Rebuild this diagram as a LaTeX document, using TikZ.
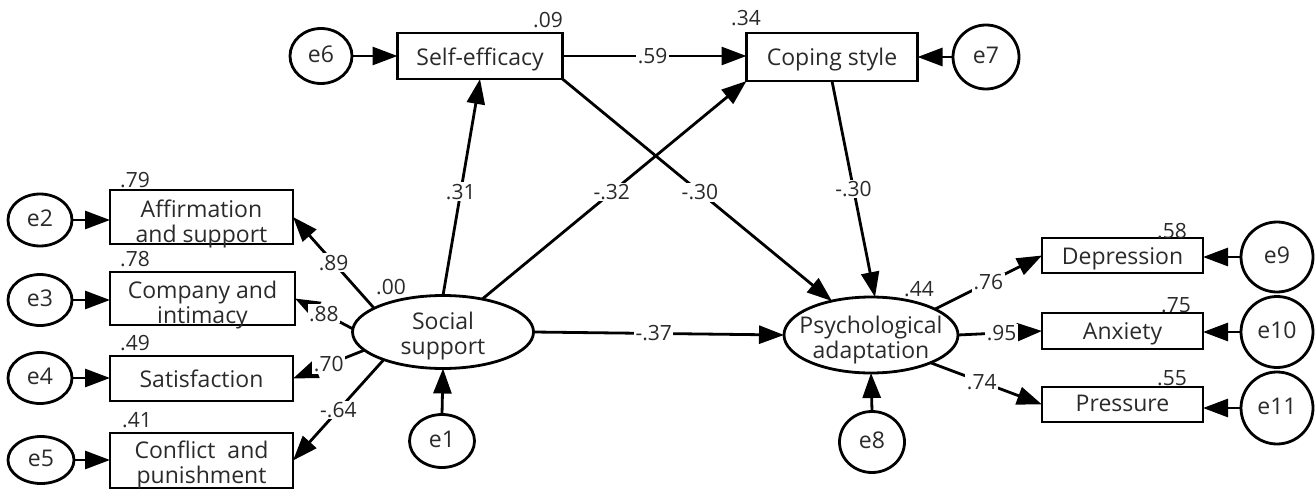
\documentclass[tikz,border=0pt]{standalone}
\usepackage{fontspec}
\setmainfont{Open Sans}
\usetikzlibrary{shapes.geometric,arrows.meta}
\definecolor{txt}{HTML}{2A2A2A}
\newcommand{\zt}[2][10pt]{\raisebox{-#1}[0pt][0pt]{\makebox[0pt]{\begin{tabular}{@{}c@{}}#2\end{tabular}}}}
\begin{document}
\begin{tikzpicture}[x=1pt,y=-1pt,
  every node/.style={inner sep=0pt, outer sep=0pt, text=txt},
  nfont/.style={font=\fontsize{23}{25}\selectfont},
  lbl/.style={font=\fontsize{21}{23}\selectfont, fill=white, inner sep=1.5pt},
  rsq/.style={font=\fontsize{21}{23}\selectfont},
  obs/.style={draw=black, line width=2.8pt, rectangle, nfont},
  lat/.style={draw=black, line width=2.8pt, ellipse, nfont},
  err/.style={draw=black, line width=2.8pt, ellipse, nfont},
  arr/.style={line width=2.8pt, -{Triangle[length=25pt,width=18pt]}},
]
\useasboundingbox (0,0) rectangle (1316,489);

% latent variables
\node[lat, minimum width=181pt, minimum height=73pt] (ss) at (443,332) {\zt[11pt]{Social\\support}};
\node[lat, minimum width=174pt, minimum height=76pt] (pa) at (871,335) {\zt[12pt]{Psychological\\adaptation}};

% mediators
\node[obs, minimum width=165pt, minimum height=46pt] (se) at (480,56) {\zt[11pt]{Self-efficacy}};
\node[obs, minimum width=171pt, minimum height=48pt] (cs) at (832,57) {\zt[10pt]{Coping style}};

% left indicators
\node[obs, minimum width=183pt, minimum height=54pt] (aff) at (201.5,217) {\zt[14pt]{Affirmation\\and support}};
\node[obs, minimum width=185pt, minimum height=53pt] (com) at (202.5,298.5) {\zt[14pt]{Company and\\intimacy}};
\node[obs, minimum width=183pt, minimum height=45pt] (sat) at (201.5,378.5) {\zt[10pt]{Satisfaction}};
\node[obs, minimum width=183pt, minimum height=55pt] (con) at (201.5,460.5) {\zt[12pt]{Conflict\ \ and\\punishment}};

% right indicators
\node[obs, minimum width=161pt, minimum height=35pt] (dep) at (1122.5,255.5) {\zt[10pt]{Depression}};
\node[obs, minimum width=161pt, minimum height=36pt] (anx) at (1122.5,331) {\zt[10pt]{Anxiety}};
\node[obs, minimum width=161pt, minimum height=35pt] (pre) at (1122.5,404.5) {\zt[8pt]{Pressure}};

% error terms
\node[err, minimum width=62pt, minimum height=55pt] (e6) at (321,56) {\zt[8pt]{e6}};
\node[err, minimum width=66pt, minimum height=64pt] (e7) at (986,57) {\zt[8pt]{e7}};
\node[err, minimum width=65pt, minimum height=53pt] (e1) at (442,441) {\zt[8pt]{e1}};
\node[err, minimum width=65pt, minimum height=61pt] (e8) at (872,442) {\zt[8pt]{e8}};
\node[err, minimum width=64pt, minimum height=52pt] (e2) at (40,220) {\zt[8pt]{e2}};
\node[err, minimum width=64pt, minimum height=51pt] (e3) at (40,300) {\zt[8pt]{e3}};
\node[err, minimum width=64pt, minimum height=51pt] (e4) at (40,378) {\zt[8pt]{e4}};
\node[err, minimum width=66pt, minimum height=47pt] (e5) at (41,460) {\zt[8pt]{e5}};
\node[err, minimum width=72pt, minimum height=70pt] (e9) at (1277,257) {\zt[8pt]{e9}};
\node[err, minimum width=72pt, minimum height=71pt] (e10) at (1277,332) {\zt[8pt]{e10}};
\node[err, minimum width=72pt, minimum height=72pt] (e11) at (1277,408) {\zt[8pt]{e11}};

% error arrows
\draw[arr] (e6.east) -- (e6.east -| se.west);
\draw[arr] (e7.west) -- (e7.west -| cs.east);
\draw[arr] (e1.north) -- (ss.south);
\draw[arr] (e8.north) -- (pa.south);
\draw[arr] (e2.east) -- (e2.east -| aff.west);
\draw[arr] (e3.east) -- (e3.east -| com.west);
\draw[arr] (e4.east) -- (e4.east -| sat.west);
\draw[arr] (e5.east) -- (e5.east -| con.west);
\draw[arr] (e9.west) -- (e9.west -| dep.east);
\draw[arr] (e10.west) -- (e10.west -| anx.east);
\draw[arr] (e11.west) -- (e11.west -| pre.east);

% structural paths
\draw[arr] (se.east) -- (se.east -| cs.west) node[lbl, pos=.49] (l59) {.59};
\draw[arr] (ss.north) -- (se.south) node[lbl, pos=.48] (l31) {.31};
\draw[arr] (ss.40) -- (cs.south west) node[lbl, pos=.49] (l32) {-.32};
\draw[arr] (se.south east) -- (pa.139) node[lbl, pos=.51] (l30a) {-.30};
\draw[arr] (cs.south) -- (pa.84) node[lbl, pos=.5] (l30b) {-.30};
\draw[arr] (ss.east) -- (pa.west) node[lbl, pos=.48] (l37) {-.37};

% measurement paths
\draw[arr] (ss.161) -- (aff.east) node[lbl, pos=.5] (l89) {.89};
\draw[arr] (ss.178) -- (com.east) node[lbl, pos=.5] (l88) {.88};
\draw[arr] (ss.193) -- (sat.east) node[lbl, pos=.5] (l70) {.70};
\draw[arr] (ss.205) -- (con.east) node[lbl, pos=.5] (l64) {-.64};
\draw[arr] (pa.22) -- (dep.west) node[lbl, pos=.5] (l76) {.76};
\draw[arr] (pa.east) -- (anx.west) node[lbl, pos=.52] (l95) {.95};
\draw[arr] (pa.-25) -- (pre.west) node[lbl, pos=.46] (l74) {.74};

% squared multiple correlations
\node[rsq] (r1) at (135,180) {.79};
\node[rsq] (r2) at (135,259) {.78};
\node[rsq] (r3) at (135,343) {.49};
\node[rsq] (r4) at (137,420) {.41};
\node[rsq] (r5) at (391,287) {.00};
\node[rsq] (r6) at (548,20) {.09};
\node[rsq] (r7) at (746,18) {.34};
\node[rsq] (r8) at (919,289) {.44};
\node[rsq] (r9) at (1172,231) {.58};
\node[rsq] (r10) at (1176,305) {.75};
\node[rsq] (r11) at (1172,378) {.55};
\end{tikzpicture}
\end{document}
